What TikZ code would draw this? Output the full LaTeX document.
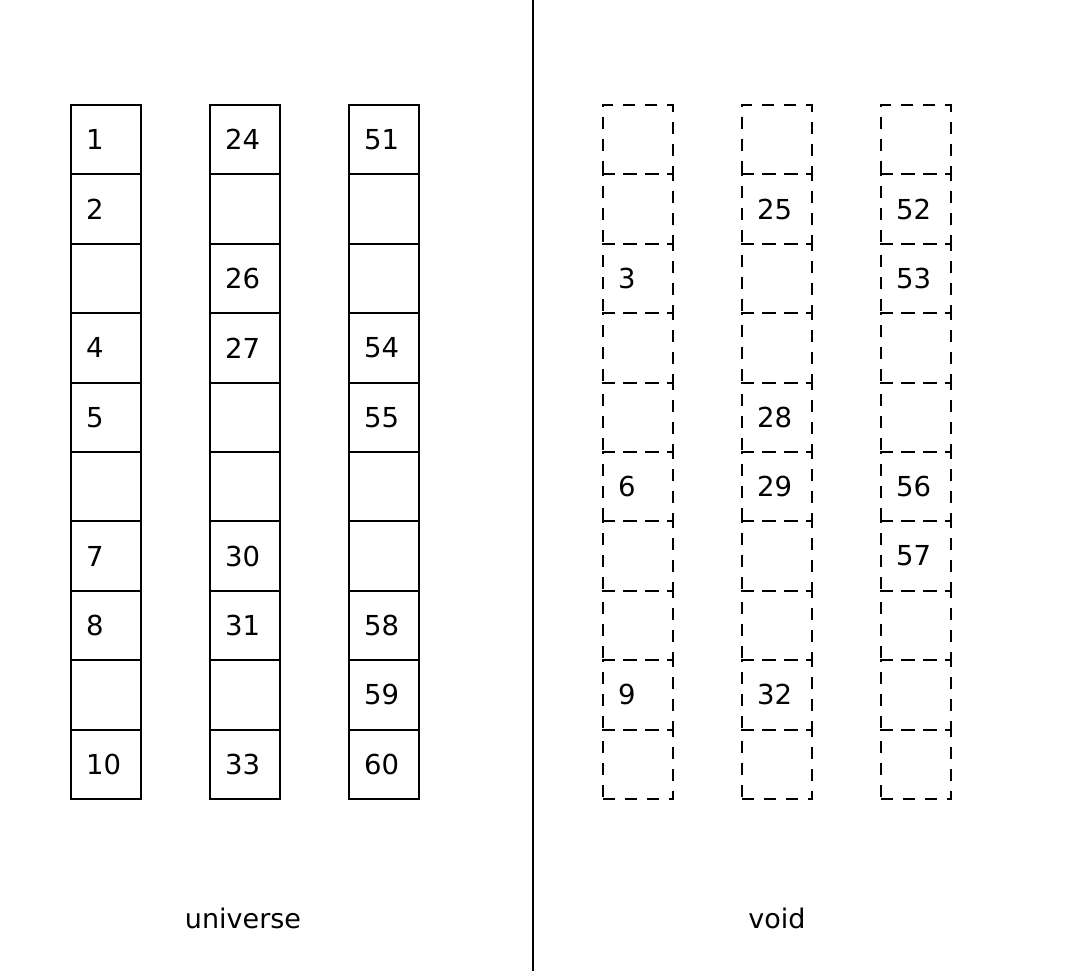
\documentclass[tikz,border=0pt]{standalone}
\usepackage{fontspec}
\setmainfont{DejaVu Sans}
\begin{document}
\begin{tikzpicture}[x=1pt,y=-1pt,
  cellbox/.style={draw, line width=2pt, minimum width=69.5pt, minimum height=69.4pt, inner sep=0pt, anchor=north west},
  dcell/.style={cellbox, dash pattern=on 12pt off 10pt},
  numlbl/.style={anchor=west, inner sep=0pt, font=\fontsize{27.5}{30}\selectfont},
  caption/.style={inner sep=0pt, font=\fontsize{27}{30}\selectfont}]
\useasboundingbox (0,0) rectangle (1067,973);
% solid columns
\foreach \c/\x/\lst in {a/70/{1,2,,4,5,,7,8,,10}, b/209/{24,,26,27,,,30,31,,33}, c/348/{51,,,54,55,,,58,59,60}}{
  \foreach \t [count=\i from 0] in \lst {
    \node[cellbox] (\c\i) at (\x,104+69.4*\i) {};
    \node[numlbl] (\c\i t) at ([xshift=16pt]\c\i.west) {\t};
  }
}
% dashed columns
\foreach \c/\x/\lst in {d/602/{,,3,,,6,,,9,}, e/741/{,25,,,28,29,,,32,}, f/880/{,52,53,,,56,57,,,}}{
  \foreach \t [count=\i from 0] in \lst {
    \node[dcell] (\c\i) at (\x,104+69.4*\i) {};
    \node[numlbl] (\c\i t) at ([xshift=16pt]\c\i.west) {\t};
  }
}
\coordinate (top) at (533,0);
\coordinate (bot) at (533,971);
\draw[line width=1.8pt] (top) -- (bot);
\node[caption] (uni) at (243,918) {universe};
\node[caption] (voi) at (777,918) {void};
\end{tikzpicture}
\end{document}
